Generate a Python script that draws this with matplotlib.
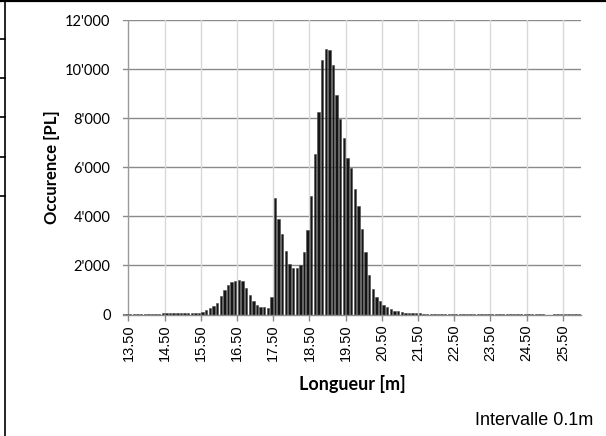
import numpy as np
import matplotlib
matplotlib.use("Agg")
import matplotlib.pyplot as plt
from matplotlib.lines import Line2D
from matplotlib.ticker import FuncFormatter

# ----------------------------
# data: occurrences per 0.1 m length class (bin centres)
# ----------------------------
bin_start = 13.35
bin_width = 0.1
counts = [
    15, 15, 15, 15, 15, 20, 20, 20, 25, 25,            # 13.35 - 14.25
    30, 75, 70, 50, 45, 55, 60, 65, 60, 55,            # 14.35 - 15.25
    50, 60, 120, 165, 245, 350, 480, 750, 1000, 1200,  # 15.35 - 16.25
    1310, 1380, 1420, 1360, 1100, 790, 540, 390, 320, 290,   # 16.35 - 17.25
    270, 720, 4760, 3910, 3260, 2580, 2040, 1900, 1900, 2000,  # 17.35 - 18.25
    2530, 3440, 4810, 6530, 8260, 10350, 10830, 10790, 10160, 8950,  # 18.35 - 19.25
    7950, 7190, 6390, 5950, 5110, 4430, 3480, 2540, 1610, 1020,  # 19.35 - 20.25
    730, 560, 390, 290, 210, 160, 130, 115, 80, 75,    # 20.35 - 21.25
    60, 50, 45, 40, 40, 35, 35, 30, 30, 30,            # 21.35 - 22.25
    25, 30, 25, 25, 25, 20, 25, 20, 20, 25,            # 22.35 - 23.25
    20, 20, 20, 15, 20, 20, 15, 20, 15, 15,            # 23.35 - 24.25
    20, 15, 15, 15, 10, 15, 10, 0, 0, 10,              # 24.35 - 25.25
    10, 10, 10, 10, 10, 10, 10,                        # 25.35 - 25.95
]
lengths = np.round(bin_start + bin_width * np.arange(len(counts)), 2)

tick_pos = [13.5, 14.5, 15.5, 16.5, 17.5, 18.5, 19.5, 20.5, 21.5, 22.5, 23.5, 24.5, 25.5]
y_ticks = [0, 2000, 4000, 6000, 8000, 10000, 12000]

# ----------------------------
# figure
# ----------------------------
fig = plt.figure(figsize=(6.06, 4.36), dpi=100)
ax = fig.add_axes([123 / 606, 1 - 314.5 / 436, (581 - 123) / 606, (314.5 - 20) / 436])

ax.bar(lengths, counts, width=0.066, color="#151515", edgecolor="#4a4a4a",
       linewidth=0.4, zorder=3)

ax.set_xlim(13.35, 26.0)
ax.set_ylim(0, 12000)

# gridlines
for y in y_ticks[1:]:
    ax.axhline(y, color="#8a8a8a", linewidth=1.0, zorder=1)
for x in tick_pos:
    c = "#9a9a9a" if x == tick_pos[0] else "#d9d9d9"
    ax.axvline(x, color=c, linewidth=1.0, zorder=1)

for s in ["top", "right", "left"]:
    ax.spines[s].set_visible(False)
ax.spines["bottom"].set_color("#8a8a8a")
ax.spines["bottom"].set_linewidth(1.0)
ax.spines["bottom"].set_zorder(4)

ax.set_yticks(y_ticks)
ax.yaxis.set_major_formatter(FuncFormatter(lambda v, p: f"{int(v):,}".replace(",", "'")))
ax.tick_params(axis="y", length=0, pad=9, labelsize=10.5, labelfontfamily="Lato")

ax.set_xticks(tick_pos)
ax.set_xticklabels([f"{t:.2f}" for t in tick_pos], rotation=90,
                   fontfamily="Liberation Sans", fontsize=10.5)
ax.tick_params(axis="x", length=4, width=1, color="#8a8a8a", pad=3)

ax.set_ylabel("Occurence [PL]", fontfamily="Lato", fontweight="bold", fontsize=12, labelpad=4)
ax.set_xlabel("Longueur [m]", fontfamily="Lato", fontweight="bold", fontsize=13, labelpad=10)

fig.text(593 / 606, 1 - 420 / 436, "Intervalle 0.1m", ha="right", va="center",
         fontfamily="Liberation Sans", fontsize=13)

# document table borders around the chart
fig.add_artist(Line2D([0, 1], [1 - 0.8 / 436, 1 - 0.8 / 436], color="black", linewidth=1.6))
fig.add_artist(Line2D([4.5 / 606, 4.5 / 606], [0, 1], color="black", linewidth=1.2))
for yy in [39, 78, 117, 157, 196]:
    fig.add_artist(Line2D([0, 4.5 / 606], [1 - yy / 436, 1 - yy / 436], color="black", linewidth=1.2))

fig.savefig("out.png", dpi=100)
